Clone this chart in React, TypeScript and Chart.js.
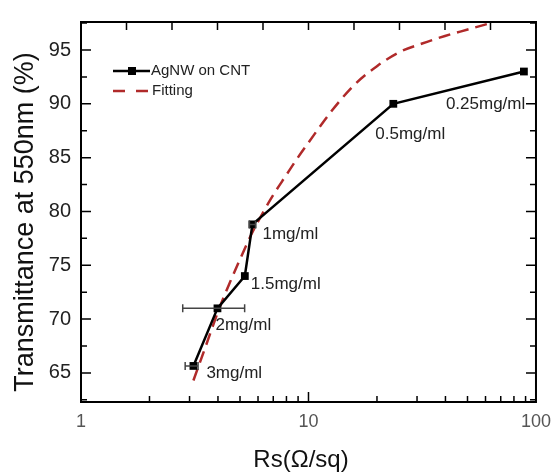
import React, { useEffect, useRef } from 'react';
import { Chart, registerables } from 'chart.js';

Chart.register(...registerables);

// ---- data ----
const sheetResistance = [3.12, 3.98, 5.25, 5.67, 23.6, 88.5];
const transmittance = [65.65, 71.0, 74.0, 78.8, 90.0, 93.0];
const errLow: (number | null)[] = [2.87, 2.8, null, 5.5, null, null];
const errHigh: (number | null)[] = [3.27, 5.24, null, 5.85, null, null];
const concentrationLabels = ['3mg/ml', '2mg/ml', '1.5mg/ml', '1mg/ml', '0.5mg/ml', '0.25mg/ml'];

const fitRs = [3.12, 3.55, 4.02, 4.47, 5.01, 5.62, 6.31, 7.08, 7.94, 8.91, 10.0, 12.6, 15.8, 20.0, 25.1, 31.6, 39.8, 50.1, 63.1];
const fitT = [64.3, 67.6, 70.8, 73.2, 75.6, 77.9, 79.9, 81.7, 83.3, 84.9, 86.4, 89.3, 91.7, 93.5, 94.8, 95.6, 96.3, 96.9, 97.5];

const yTickValues = [65, 70, 75, 80, 85, 90, 95];
const xTickValues = [1, 10, 100];
const seriesNames = ['AgNW on CNT', 'Fitting'];
const xTitle = 'Rs(Ω/sq)';
const yTitle = 'Transmittance at 550nm (%)';

const FONT = "'Liberation Sans', Arial, sans-serif";
const FIT_COLOR = '#b02a2a';

// label offsets in pixels (style only)
const labelOffsets: [number, number][] = [
  [13, 7], [-2, 17], [6, 8], [10, 10], [-18, 30], [-78, 33],
];

const decorPlugin = {
  id: 'decor',
  afterDatasetsDraw(chart: any) {
    const { ctx, chartArea: a, scales } = chart;
    const xs = scales.x;
    const ys = scales.y;
    ctx.save();

    // error bars
    ctx.strokeStyle = '#444';
    ctx.lineWidth = 1.5;
    for (let i = 0; i < sheetResistance.length; i++) {
      const lo = errLow[i];
      const hi = errHigh[i];
      if (lo == null || hi == null) continue;
      const y = ys.getPixelForValue(transmittance[i]);
      const x1 = xs.getPixelForValue(lo);
      const x2 = xs.getPixelForValue(hi);
      ctx.beginPath();
      ctx.moveTo(x1, y); ctx.lineTo(x2, y);
      ctx.moveTo(x1, y - 4); ctx.lineTo(x1, y + 4);
      ctx.moveTo(x2, y - 4); ctx.lineTo(x2, y + 4);
      ctx.stroke();
    }

    // point labels
    ctx.fillStyle = '#222';
    ctx.font = `17px ${FONT}`;
    ctx.textAlign = 'left';
    ctx.textBaseline = 'middle';
    for (let i = 0; i < sheetResistance.length; i++) {
      const px = xs.getPixelForValue(sheetResistance[i]);
      const py = ys.getPixelForValue(transmittance[i]);
      ctx.fillText(concentrationLabels[i], px + labelOffsets[i][0], py + labelOffsets[i][1]);
    }

    // frame
    ctx.strokeStyle = '#000';
    ctx.lineWidth = 2;
    ctx.strokeRect(a.left, a.top, a.right - a.left, a.bottom - a.top);

    // y ticks inward (left & right)
    ctx.lineWidth = 1.5;
    ctx.beginPath();
    for (let v = 62.5; v <= 97.5; v += 2.5) {
      if (v < ys.min || v > ys.max) continue;
      const y = ys.getPixelForValue(v);
      const len = v % 5 === 0 ? 10 : 6;
      ctx.moveTo(a.left, y); ctx.lineTo(a.left + len, y);
      ctx.moveTo(a.right, y); ctx.lineTo(a.right - len, y);
    }
    // bottom log ticks
    for (let dec = 1; dec <= 10; dec *= 10) {
      for (let m = 2; m <= 10; m++) {
        const v = m * dec;
        if (v >= 100) continue;
        const x = xs.getPixelForValue(v);
        const len = m === 10 ? 10 : 6;
        ctx.moveTo(x, a.bottom); ctx.lineTo(x, a.bottom - len);
      }
    }
    // top ticks (evenly spaced in log)
    for (let k = 1; k < 10; k++) {
      const x = xs.getPixelForValue(Math.pow(10, 0.2 * k));
      ctx.moveTo(x, a.top); ctx.lineTo(x, a.top + 8);
    }
    ctx.stroke();

    // legend
    ctx.lineWidth = 2.5;
    ctx.strokeStyle = '#000';
    ctx.beginPath();
    ctx.moveTo(113, 71); ctx.lineTo(150, 71);
    ctx.stroke();
    ctx.fillStyle = '#000';
    ctx.fillRect(128, 67, 8, 8);
    ctx.strokeStyle = FIT_COLOR;
    ctx.setLineDash([12, 11]);
    ctx.beginPath();
    ctx.moveTo(113, 91); ctx.lineTo(150, 91);
    ctx.stroke();
    ctx.setLineDash([]);
    ctx.fillStyle = '#222';
    ctx.font = `15px ${FONT}`;
    ctx.textAlign = 'left';
    ctx.textBaseline = 'middle';
    ctx.fillText(seriesNames[0], 151, 71);
    ctx.fillText(seriesNames[1], 152, 91);

    // axis titles
    ctx.fillStyle = '#111';
    ctx.font = `24px ${FONT}`;
    ctx.textAlign = 'center';
    ctx.textBaseline = 'alphabetic';
    ctx.fillText(xTitle, 301, 467);
    ctx.save();
    ctx.translate(33, 222);
    ctx.rotate(-Math.PI / 2);
    ctx.font = `27px ${FONT}`;
    ctx.fillText(yTitle, 0, 0);
    ctx.restore();

    ctx.restore();
  },
};

export default function App() {
  const ref = useRef<HTMLCanvasElement | null>(null);
  useEffect(() => {
    document.body.style.margin = '0';
    const canvas = ref.current;
    if (!canvas) return;
    const chart = new Chart(canvas, {
      type: 'line',
      data: {
        datasets: [
          {
            label: seriesNames[0],
            data: sheetResistance.map((x, i) => ({ x, y: transmittance[i] })),
            borderColor: '#000',
            backgroundColor: '#000',
            borderWidth: 2.5,
            pointStyle: 'rect',
            pointRadius: 5.5,
            pointBorderWidth: 0,
            tension: 0,
          },
          {
            label: seriesNames[1],
            data: fitRs.map((x, i) => ({ x, y: fitT[i] })),
            borderColor: FIT_COLOR,
            borderWidth: 2.5,
            borderDash: [12, 7],
            pointRadius: 0,
            cubicInterpolationMode: 'monotone',
          },
        ],
      },
      options: {
        responsive: false,
        animation: false,
        devicePixelRatio: 1,
        layout: { padding: { left: 0, top: 17, right: 17, bottom: 0 } },
        plugins: { legend: { display: false }, tooltip: { enabled: false } },
        scales: {
          x: {
            type: 'logarithmic',
            min: 1,
            max: 100,
            grid: { display: false, drawTicks: false },
            border: { display: false },
            afterBuildTicks: (s: any) => { s.ticks = xTickValues.map((v) => ({ value: v })); },
            afterFit: (s: any) => { s.height = 71; },
            ticks: {
              color: '#555',
              font: { size: 18, family: FONT },
              padding: 9,
              maxRotation: 0,
              autoSkip: false,
              callback: (v: any) => String(v),
            },
          },
          y: {
            type: 'linear',
            min: 62.3,
            max: 97.6,
            grid: { display: false, drawTicks: false },
            border: { display: false },
            afterBuildTicks: (s: any) => { s.ticks = yTickValues.map((v) => ({ value: v })); },
            afterFit: (s: any) => { s.width = 81; },
            ticks: {
              color: '#222',
              font: { size: 20, family: FONT },
              padding: 10,
              callback: (v: any) => String(v),
            },
          },
        },
      },
      plugins: [decorPlugin],
    } as any);
    return () => chart.destroy();
  }, []);
  return <canvas ref={ref} width={560} height={473} style={{ display: 'block' }} />;
}
